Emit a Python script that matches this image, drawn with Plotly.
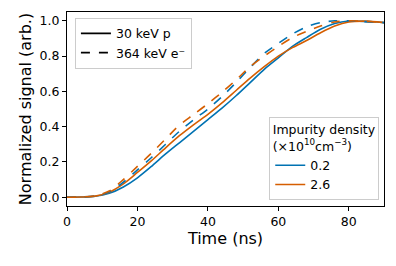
import plotly.graph_objects as go

time_ns = [0, 4, 8, 12, 16, 20, 24, 28, 32, 36, 40, 44, 48, 52, 56, 60, 64, 68, 72, 76, 80, 84, 88, 90]

p_02 = [0, 0.001, 0.005, 0.022, 0.058, 0.11, 0.175, 0.245, 0.31, 0.375, 0.44, 0.505, 0.575, 0.65, 0.725, 0.79, 0.855, 0.905, 0.952, 0.985, 0.999, 0.997, 0.993, 0.99]
p_26 = [0, 0.001, 0.006, 0.028, 0.075, 0.14, 0.207, 0.28, 0.35, 0.412, 0.47, 0.535, 0.605, 0.675, 0.74, 0.8, 0.848, 0.888, 0.932, 0.97, 0.993, 0.998, 0.994, 0.99]
e_02 = [0, 0.001, 0.006, 0.03, 0.085, 0.155, 0.225, 0.3, 0.375, 0.44, 0.5, 0.57, 0.65, 0.735, 0.815, 0.872, 0.925, 0.966, 0.99, 1.0, 1.0, 0.996, 0.992, 0.99]
e_26 = [0, 0.001, 0.008, 0.035, 0.1, 0.175, 0.25, 0.33, 0.41, 0.47, 0.53, 0.595, 0.665, 0.74, 0.8, 0.855, 0.905, 0.94, 0.97, 0.993, 1.0, 0.998, 0.993, 0.99]

densities = ["0.2", "2.6"]
particles = ["30 keV p", "364 keV e\u207b"]

BLUE = "#0072B2"
ORANGE = "#D55E00"
FONT = "DejaVu Sans"

fig = go.Figure()
series = [(p_02, BLUE, "solid"), (p_26, ORANGE, "solid"), (e_02, BLUE, "dash"), (e_26, ORANGE, "dash")]
for y, c, d in series:
    fig.add_trace(go.Scatter(x=time_ns, y=y, mode="lines", line=dict(color=c, width=1.6, dash=d, shape="spline", smoothing=0.8),
                             showlegend=False, hoverinfo="skip"))

# particle legend
for name, d in zip(particles, ["solid", "dash"]):
    fig.add_trace(go.Scatter(x=[None], y=[None], mode="lines", name=name,
                             line=dict(color="black", width=1.8, dash=d), legend="legend"))
# density legend
for name, c in zip(densities, [BLUE, ORANGE]):
    fig.add_trace(go.Scatter(x=[None], y=[None], mode="lines", name=name,
                             line=dict(color=c, width=1.6), legend="legend2"))

axis_common = dict(showline=True, linecolor="black", linewidth=1, mirror=True, ticks="outside",
                   ticklen=4, tickcolor="black", showgrid=False, zeroline=False, automargin=False,
                   tickfont=dict(family=FONT, size=12.5, color="black"))

fig.update_layout(
    width=396, height=266,
    margin=dict(l=67, r=12, t=12, b=60),
    paper_bgcolor="white", plot_bgcolor="white",
    font=dict(family=FONT, size=12.5, color="black"),
    xaxis=dict(range=[0, 90], tickvals=[0, 20, 40, 60, 80],
               title=dict(text="Time (ns)", font=dict(family=FONT, size=16), standoff=4), **axis_common),
    yaxis=dict(range=[-0.05, 1.05], tickvals=[0, 0.2, 0.4, 0.6, 0.8, 1.0], tickformat=".1f",
               title=dict(text="Normalized signal (arb.)", font=dict(family=FONT, size=16), standoff=4), **axis_common),
    legend=dict(x=0.025, y=0.97, xanchor="left", yanchor="top", bgcolor="rgba(255,255,255,0.8)",
                bordercolor="#cccccc", borderwidth=1, font=dict(family=FONT, size=12.5),
                tracegroupgap=0, itemwidth=30),
    legend2=dict(x=0.985, y=0.03, xanchor="right", yanchor="bottom", bgcolor="rgba(255,255,255,0.8)",
                 bordercolor="#cccccc", borderwidth=1, font=dict(family=FONT, size=12.5),
                 title=dict(text="Impurity density<br>(\u00d710<sup>10</sup>cm<sup>\u22123</sup>)",
                            font=dict(family=FONT, size=12.5), side="top center"),
                 itemwidth=30),
)

fig.write_html("out.html", config={"displayModeBar": False},
               post_script="document.body.style.margin='0';document.body.style.padding='0';")
